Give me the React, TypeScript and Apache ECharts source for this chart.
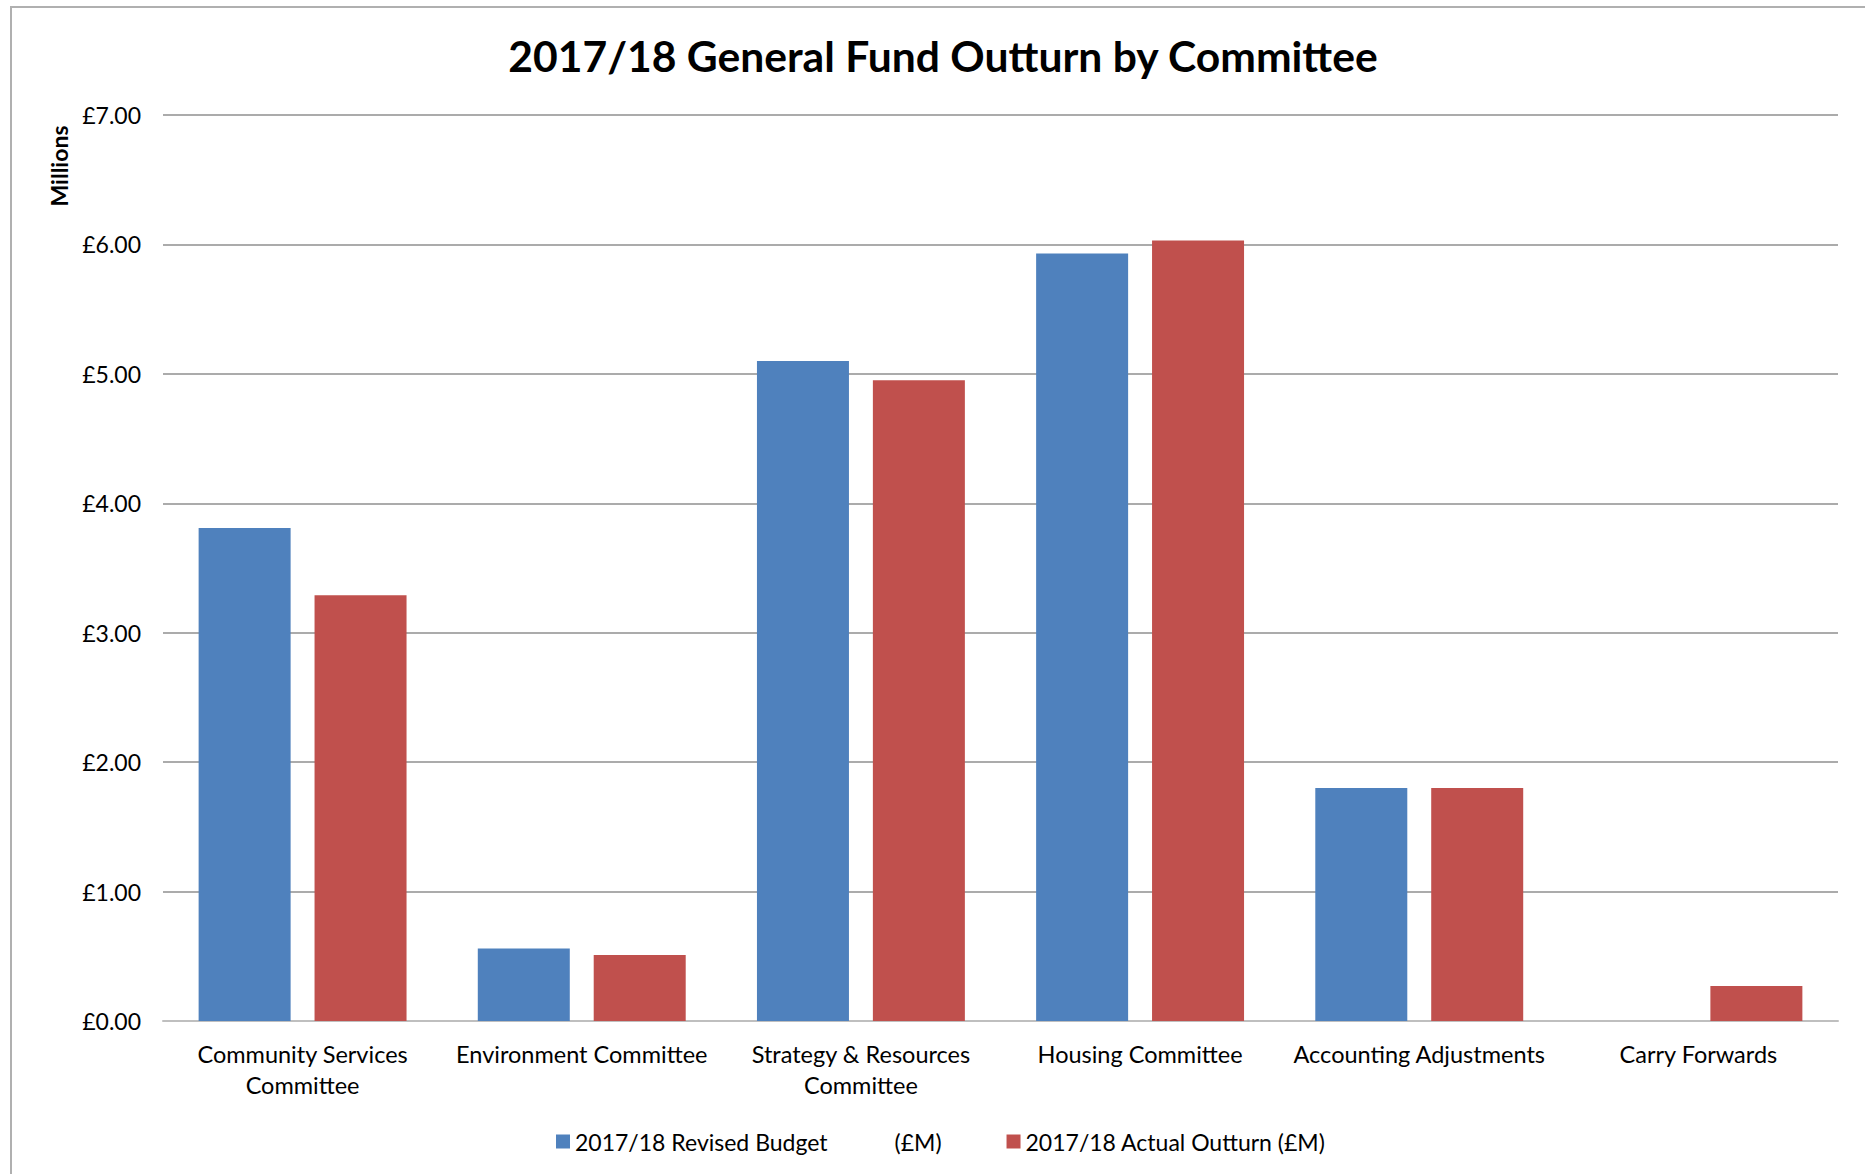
import React, { useEffect, useRef } from "react";
import * as echarts from "echarts";

const categories = [
  "Community Services\nCommittee",
  "Environment Committee",
  "Strategy & Resources\nCommittee",
  "Housing Committee",
  "Accounting Adjustments",
  "Carry Forwards",
];
const revisedBudget = [3.81, 0.56, 5.1, 5.93, 1.8, null];
const actualOutturn = [3.29, 0.51, 4.95, 6.03, 1.8, 0.27];
const yTicks = [0, 1, 2, 3, 4, 5, 6, 7];
const seriesNames = ["2017/18 Revised Budget (£M)", "2017/18 Actual Outturn (£M)"];
const titleText = "2017/18 General Fund Outturn by Committee";
const yAxisName = "Millions";

const FONT = "Lato";

export default function App() {
  const ref = useRef<HTMLDivElement>(null);
  useEffect(() => {
    if (!ref.current) return;
    const chart = echarts.init(ref.current, null, { renderer: "svg" });
    chart.setOption({
      animation: false,
      backgroundColor: "#ffffff",
      title: {
        text: titleText,
        left: 938,
        textAlign: "center",
        top: 29,
        textStyle: { fontFamily: FONT, fontWeight: "bold", fontSize: 42.6, color: "#000" },
      },
      graphic: [
        {
          type: "rect",
          shape: { x: 11, y: 7, width: 1900, height: 1200 },
          style: { fill: "none", stroke: "#B0B0B0", lineWidth: 2 },
          silent: true,
        },
        {
          type: "text",
          x: 59,
          y: 166,
          rotation: Math.PI / 2,
          style: {
            text: yAxisName,
            align: "center",
            verticalAlign: "middle",
            fontFamily: FONT,
            fontWeight: "bold",
            fontSize: 23,
            fill: "#000",
          },
        },
      ],
      legend: {
        left: 551,
        top: 1125,
        itemWidth: 14,
        itemHeight: 14,
        itemGap: 65,
        icon: "rect",
        textStyle: {
          fontFamily: FONT,
          fontSize: 23,
          color: "#000",
          rich: {
            a: { fontFamily: FONT, fontSize: 23, color: "#000" },
            b: { fontFamily: FONT, fontSize: 23, color: "#000", padding: [0, 0, 0, 67] },
          },
        },
        formatter: (name: string) => {
          if (name === seriesNames[0]) return "{a|2017/18 Revised Budget}{b|(£M)}";
          return "{a|" + name + "}";
        },
        data: seriesNames,
      },
      grid: { left: 163, right: 27, top: 115, bottom: 153, containLabel: false },
      xAxis: {
        type: "category",
        data: categories,
        axisLine: { show: true, lineStyle: { color: "#BFBFBF", width: 2 } },
        axisTick: { show: false },
        axisLabel: {
          interval: 0,
          fontFamily: FONT,
          fontSize: 23.5,
          color: "#000",
          margin: 17,
          lineHeight: 31,
        },
      },
      yAxis: {
        type: "value",
        min: yTicks[0],
        max: yTicks[yTicks.length - 1],
        interval: 1,
        axisLine: { show: false },
        axisTick: { show: false },
        splitLine: { show: true, lineStyle: { color: "#ABABAB", width: 2 } },
        axisLabel: {
          fontFamily: FONT,
          fontSize: 23,
          color: "#000",
          margin: 22,
          formatter: (v: number) => "£" + v.toFixed(2),
        },
      },
      series: [
        {
          name: seriesNames[0],
          type: "bar",
          data: revisedBudget,
          barWidth: 92,
          barGap: "26%",
          itemStyle: { color: "#4F81BD" },
        },
        {
          name: seriesNames[1],
          type: "bar",
          data: actualOutturn,
          barWidth: 92,
          barGap: "26%",
          itemStyle: { color: "#C0504D" },
        },
      ],
    });
    return () => chart.dispose();
  }, []);
  return (
    <div
      ref={ref}
      style={{ position: "fixed", left: 0, top: 0, width: 1865, height: 1174 }}
    />
  );
}
